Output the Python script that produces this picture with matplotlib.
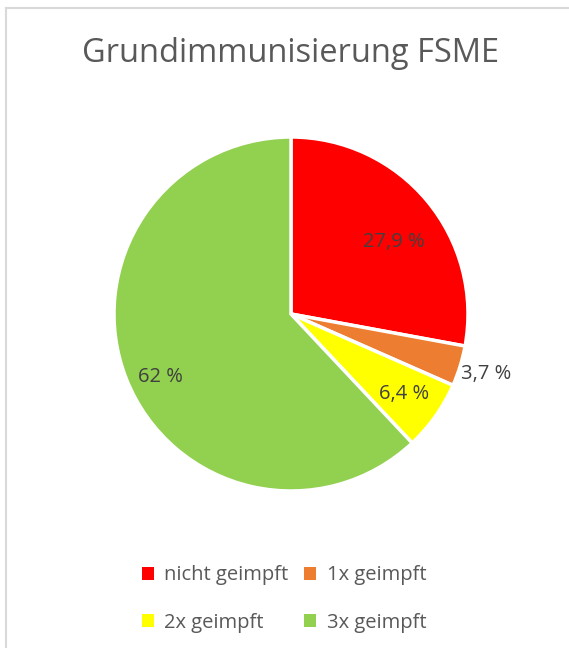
import matplotlib
matplotlib.use("Agg")
import matplotlib.pyplot as plt
from matplotlib.lines import Line2D
from matplotlib.patches import Patch
import numpy as np

categories = ["nicht geimpft", "1x geimpft", "2x geimpft", "3x geimpft"]
values = [27.9, 3.7, 6.4, 62.0]
labels = ["27,9 %", "3,7 %", "6,4 %", "62 %"]
colors = ["#ff0000", "#ed7d31", "#ffff00", "#92d050"]
label_r = [0.71, 1.155, 0.78, 0.82]
label_shift = [-5, 0, 0, 4]  # degrees

plt.rcParams['font.family'] = ['Open Sans', 'DejaVu Sans']

W, H = 569, 648
fig = plt.figure(figsize=(W/100, H/100), dpi=100)
fig.patch.set_facecolor("white")

cx, cy, R = 291, 648-314, 177
ax = fig.add_axes([(cx-R)/W, (cy-R)/H, 2*R/W, 2*R/H])
wedges, _ = ax.pie(values, colors=colors, startangle=90, counterclock=False,
                   radius=1, wedgeprops=dict(edgecolor="white", linewidth=2.5))
ax.set_xlim(-1, 1)
ax.set_ylim(-1, 1)
ax.set_aspect("equal")
ax.axis("off")

for w, lab, r, sh in zip(wedges, labels, label_r, label_shift):
    ang = np.deg2rad((w.theta1 + w.theta2) / 2 + sh)
    ax.text(r*np.cos(ang), r*np.sin(ang), lab, ha="center", va="center",
            fontsize=14.5, color="#404040")

fig.text(291/W, 1-53/H, "Grundimmunisierung FSME", ha="center", va="center",
         fontsize=23.5, color="#595959")

handles = [Patch(facecolor=c, edgecolor="none") for c in colors]
order = [0, 2, 1, 3]  # row-wise reading order for a 2-column legend
leg = fig.legend([handles[i] for i in order], [categories[i] for i in order],
                 ncol=2, loc="center",
                 bbox_to_anchor=(284/W, 1-599/H), frameon=False,
                 fontsize=14.5, labelcolor="#595959", handlelength=0.6,
                 handleheight=0.6, handletextpad=0.5, columnspacing=0.8,
                 labelspacing=1.35)

fig.add_artist(Line2D([6/W, 1], [1-8/H, 1-8/H], color="#d9d9d9", lw=1.5,
                      transform=fig.transFigure))
fig.add_artist(Line2D([6/W, 6/W], [0, 1-8/H], color="#d9d9d9", lw=1.5,
                      transform=fig.transFigure))

fig.savefig("out.png", dpi=100, facecolor="white")
